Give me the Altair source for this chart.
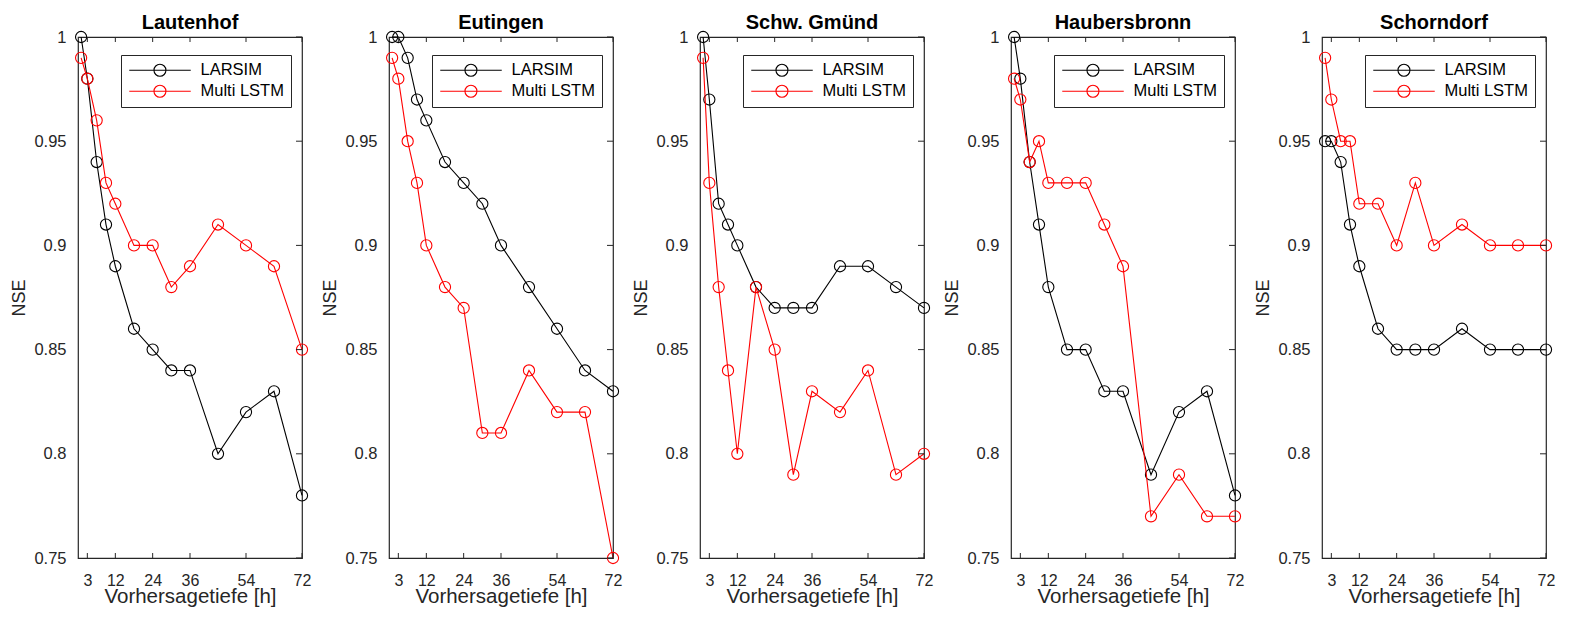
import altair as alt
import pandas as pd

HOURS = [1, 3, 6, 9, 12, 18, 24, 30, 36, 45, 54, 63, 72]
STATIONS = ["Lautenhof", "Eutingen", "Schw. Gmünd", "Haubersbronn", "Schorndorf"]
MODELS = ["LARSIM", "Multi LSTM"]
COLORS = ["#000000", "#ff0000"]
X_TICKS = [3, 12, 24, 36, 54, 72]
Y_TICKS = [0.75, 0.8, 0.85, 0.9, 0.95, 1.0]

LAUTENHOF_LARSIM = [1.00, 0.98, 0.94, 0.91, 0.89, 0.86, 0.85, 0.84, 0.84, 0.80, 0.82, 0.83, 0.78]
LAUTENHOF_LSTM = [0.99, 0.98, 0.96, 0.93, 0.92, 0.90, 0.90, 0.88, 0.89, 0.91, 0.90, 0.89, 0.85]
EUTINGEN_LARSIM = [1.00, 1.00, 0.99, 0.97, 0.96, 0.94, 0.93, 0.92, 0.90, 0.88, 0.86, 0.84, 0.83]
EUTINGEN_LSTM = [0.99, 0.98, 0.95, 0.93, 0.90, 0.88, 0.87, 0.81, 0.81, 0.84, 0.82, 0.82, 0.75]
GMUEND_LARSIM = [1.00, 0.97, 0.92, 0.91, 0.90, 0.88, 0.87, 0.87, 0.87, 0.89, 0.89, 0.88, 0.87]
GMUEND_LSTM = [0.99, 0.93, 0.88, 0.84, 0.80, 0.88, 0.85, 0.79, 0.83, 0.82, 0.84, 0.79, 0.80]
HAUBERSBRONN_LARSIM = [1.00, 0.98, 0.94, 0.91, 0.88, 0.85, 0.85, 0.83, 0.83, 0.79, 0.82, 0.83, 0.78]
HAUBERSBRONN_LSTM = [0.98, 0.97, 0.94, 0.95, 0.93, 0.93, 0.93, 0.91, 0.89, 0.77, 0.79, 0.77, 0.77]
SCHORNDORF_LARSIM = [0.95, 0.95, 0.94, 0.91, 0.89, 0.86, 0.85, 0.85, 0.85, 0.86, 0.85, 0.85, 0.85]
SCHORNDORF_LSTM = [0.99, 0.97, 0.95, 0.95, 0.92, 0.92, 0.90, 0.93, 0.90, 0.91, 0.90, 0.90, 0.90]

SERIES = [
    (LAUTENHOF_LARSIM, LAUTENHOF_LSTM),
    (EUTINGEN_LARSIM, EUTINGEN_LSTM),
    (GMUEND_LARSIM, GMUEND_LSTM),
    (HAUBERSBRONN_LARSIM, HAUBERSBRONN_LSTM),
    (SCHORNDORF_LARSIM, SCHORNDORF_LSTM),
]

W, H = 224, 521
FONT = "Liberation Sans"
AX = "#262626"

SYMBOL_PATH = "M-1.4,0H10.9M5.94,0A1.2,1.2,0,1,1,3.54,0A1.2,1.2,0,1,1,5.94,0"

legend = alt.Legend(
    title=None, orient="none", legendX=43, legendY=18, direction="vertical",
    symbolType=SYMBOL_PATH, symbolSize=100, symbolStrokeWidth=1.1,
    symbolFillColor="transparent",
    labelFont=FONT, labelFontSize=16.5, labelColor="#000000", labelOffset=56,
    labelLimit=300, padding=7, rowPadding=4, strokeColor=AX, fillColor="white",
    cornerRadius=0,
)

xscale = alt.Scale(domain=[0, 72], nice=False, zero=False)
yscale = alt.Scale(domain=[0.75, 1.0], nice=False, zero=False)

xaxis = alt.Axis(
    values=X_TICKS, grid=False, ticks=False, tickSize=0, domain=False,
    labelFont=FONT, labelFontSize=16, labelColor=AX, labelPadding=14,
    labelFlush=False, labelOverlap=False,
    title="Vorhersagetiefe [h]", titleFont=FONT, titleFontSize=20.5,
    titleFontWeight="normal", titleColor=AX, titleY=28, titleBaseline="top",
)
yaxis = alt.Axis(
    values=Y_TICKS, format="~g", grid=False, ticks=False, tickSize=0, domain=False,
    labelFont=FONT, labelFontSize=16.5, labelColor=AX, labelPadding=12,
    labelFlush=False, labelOverlap=False,
    title="NSE", titleFont=FONT, titleFontSize=18, titleFontWeight="normal",
    titleColor=AX, titleX=-59, titleY=H / 2, titleAngle=270,
    titleAlign="center", titleBaseline="middle",
)

X = alt.X("h:Q", scale=xscale, axis=xaxis)
Y = alt.Y("nse:Q", scale=yscale, axis=yaxis)
C = alt.Color("model:N", scale=alt.Scale(domain=MODELS, range=COLORS), legend=legend)


def panel(name, larsim, lstm):
    df = pd.DataFrame({
        "h": HOURS + HOURS,
        "nse": larsim + lstm,
        "model": [MODELS[0]] * len(HOURS) + [MODELS[1]] * len(HOURS),
    })
    layers = []
    for m in MODELS:
        base = alt.Chart(df).transform_filter(alt.datum.model == m).encode(x=X, y=Y, color=C)
        layers.append(base.mark_line(strokeWidth=1.1))
        layers.append(base.mark_point(shape="circle", filled=False, size=125,
                                      strokeWidth=1.1, opacity=1))
    xt = pd.DataFrame({"h": X_TICKS})
    yt = pd.DataFrame({"nse": Y_TICKS})
    layers.append(alt.Chart(xt).mark_rule(color=AX, strokeWidth=1).encode(
        x=X, y=alt.value(H), y2=alt.value(H - 5)))
    layers.append(alt.Chart(xt).mark_rule(color=AX, strokeWidth=1).encode(
        x=X, y=alt.value(0), y2=alt.value(5)))
    layers.append(alt.Chart(yt).mark_rule(color=AX, strokeWidth=1).encode(
        y=Y, x=alt.value(W), x2=alt.value(W - 6)))
    return alt.layer(*layers).properties(
        width=W, height=H,
        title=alt.TitleParams(name, font=FONT, fontSize=20, fontWeight="bold",
                              color="#000000", anchor="middle", frame="group", offset=-4),
    )


charts = [panel(n, a, b) for n, (a, b) in zip(STATIONS, SERIES)]

chart = alt.hconcat(*charts, spacing=87, bounds="flush").resolve_scale(
    color="independent"
).resolve_legend(color="independent").properties(
    padding={"left": 1, "top": 4, "right": 0, "bottom": 0},
    background="white",
).configure_view(stroke=AX, strokeWidth=1.2)

chart.save("out.html", embed_options={"renderer": "svg", "actions": False})
